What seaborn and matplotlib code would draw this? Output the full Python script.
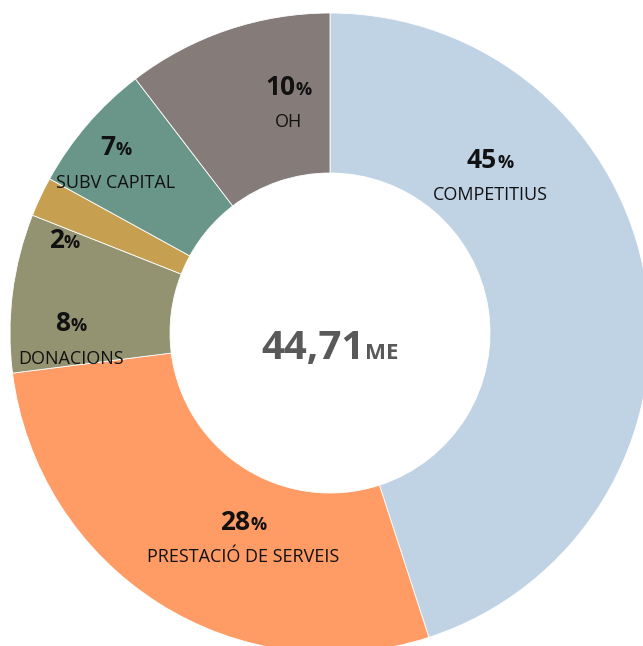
import seaborn as sns
import matplotlib.pyplot as plt
from matplotlib.transforms import offset_copy

# dades llegides del gràfic
categories = ["COMPETITIUS", "PRESTACIÓ DE SERVEIS", "DONACIONS", "", "SUBV CAPITAL", "OH"]
shares = [45, 28, 8, 2, 6.6, 10.4]
pct_labels = ["45", "28", "8", "2", "7", "10"]
total_label = "44,71"
total_unit = "ME"

colors = ["#C0D3E5", "#FF9C66", "#939371", "#C6A050", "#6A968A", "#857C7A"]
# posicio de les etiquetes (com a l'original, col·locades a ma)
pct_pos = [(0.50, 0.55), (-0.27, -0.58), (-0.81, 0.04), (-0.83, 0.30), (-0.67, 0.59), (-0.13, 0.78)]
name_gap = 0.12

sns.set_theme(style="white")
plt.rcParams['font.family'] = ['Open Sans', 'DejaVu Sans']

fig = plt.figure(figsize=(6.43, 6.46), dpi=100)
ax = fig.add_axes([10 / 643, -7 / 646, 640 / 643, 640 / 646])
ax.pie(shares, colors=colors, startangle=90, counterclock=False, radius=1,
       wedgeprops=dict(width=0.5, edgecolor="white", linewidth=0.6))
ax.set_xlim(-1, 1)
ax.set_ylim(-1, 1)
ax.axis("off")

renderer = fig.canvas.get_renderer()


def two_part(x, y, big, small, big_size, small_size, color):
    # numero gran + sufix petit, centrat al punt
    t1 = ax.text(x, y, big, fontsize=big_size, fontweight="bold", color=color,
                 ha="left", va="baseline")
    w1 = t1.get_window_extent(renderer).width
    t2 = ax.text(x, y, small, fontsize=small_size, fontweight="bold", color=color,
                 ha="left", va="baseline")
    w2 = t2.get_window_extent(renderer).width
    shift = -(w1 + w2) / 2 * 72 / fig.dpi
    t1.set_transform(offset_copy(ax.transData, fig=fig, x=shift, y=0, units="points"))
    t2.set_transform(offset_copy(ax.transData, fig=fig, x=shift + w1 * 72 / fig.dpi, y=0, units="points"))


for (x, y), p, name in zip(pct_pos, pct_labels, categories):
    two_part(x, y - 0.035, p, "%", 19, 13, "#111111")
    if name:
        ax.text(x, y - name_gap, name, fontsize=13, color="#111111", ha="center", va="center")

two_part(0.0, -0.08, total_label, total_unit, 29, 16, "#595959")

fig.savefig("out.png", dpi=100)
